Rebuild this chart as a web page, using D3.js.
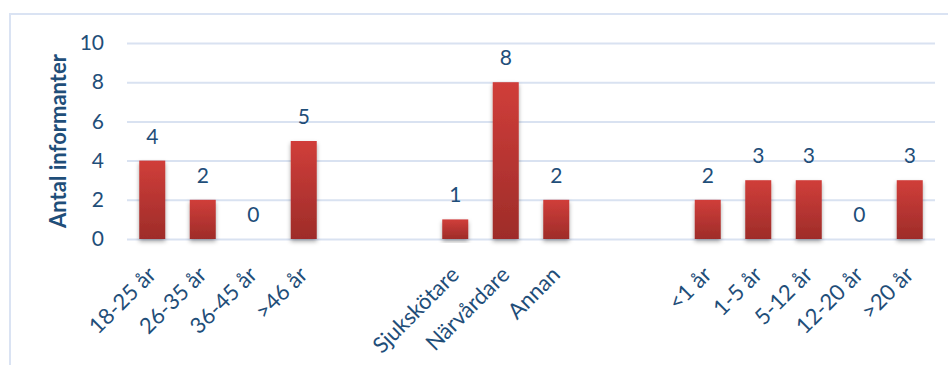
<!DOCTYPE html>
<html>
<head>
<meta charset="utf-8">
<script src="https://cdn.jsdelivr.net/npm/d3@7"></script>
<style>
  html, body { margin: 0; padding: 0; background: #ffffff; }
  svg { display: block; }
  text { font-family: Lato, "Open Sans", sans-serif; }
</style>
</head>
<body>
<svg id="chart" width="948" height="365"></svg>
<script>
// ---- data ----
const ageCategories = ["18-25 år", "26-35 år", "36-45 år", ">46 år"];
const ageValues = [4, 2, 0, 5];
const roleCategories = ["Sjukskötare", "Närvårdare", "Annan"];
const roleValues = [1, 8, 2];
const experienceCategories = ["<1 år", "1-5 år", "5-12 år", "12-20 år", ">20 år"];
const experienceValues = [2, 3, 3, 0, 3];
const yTicks = [0, 2, 4, 6, 8, 10];
const yTitle = "Antal informanter";
const gapSlots = 2;

// build slot list (groups separated by empty slots)
const groups = [
  [ageCategories, ageValues],
  [roleCategories, roleValues],
  [experienceCategories, experienceValues]
];
const slots = [];
groups.forEach(([cats, vals], gi) => {
  if (gi > 0) for (let g = 0; g < gapSlots; g++) slots.push({ key: "gap" + gi + "_" + g, label: "", value: null });
  cats.forEach((c, i) => slots.push({ key: c, label: c, value: vals[i] }));
});

const svg = d3.select("#chart");
const margin = { left: 127, right: 13, top: 43, bottom: 126 };
const W = 948, H = 365;
const textColor = "#1f4e79";

// outer chart border
svg.append("rect")
  .attr("x", 10).attr("y", 14)
  .attr("width", 2000).attr("height", 2000)
  .attr("fill", "none").attr("stroke", "#dae3f3").attr("stroke-width", 2);

const x = d3.scaleBand()
  .domain(slots.map(d => d.key))
  .range([margin.left, W - margin.right])
  .paddingInner(0.485).paddingOuter(0.2425);

const y = d3.scaleLinear().domain([0, 10]).range([H - margin.bottom, margin.top]);

// defs: gradient + shadow
const defs = svg.append("defs");
const grad = defs.append("linearGradient").attr("id", "barGrad")
  .attr("x1", 0).attr("y1", 0).attr("x2", 0).attr("y2", 1);
grad.append("stop").attr("offset", "0%").attr("stop-color", "#d03e3a");
grad.append("stop").attr("offset", "100%").attr("stop-color", "#9e2c29");
const f = defs.append("filter").attr("id", "shadow")
  .attr("x", "-30%").attr("y", "-10%").attr("width", "160%").attr("height", "130%");
f.append("feDropShadow").attr("dx", 0).attr("dy", 2.5).attr("stdDeviation", 2)
  .attr("flood-color", "#000").attr("flood-opacity", 0.35);

// gridlines
const yAxis = d3.axisLeft(y).tickValues(yTicks).tickSize(-(W - margin.right - margin.left)).tickPadding(23);
const gy = svg.append("g").attr("transform", `translate(${margin.left},0)`).call(yAxis);
gy.select(".domain").remove();
gy.selectAll(".tick line").attr("stroke", "#d9e2f1").attr("stroke-width", 2);
gy.selectAll(".tick text")
  .attr("fill", textColor).attr("font-size", 21).attr("font-family", "Lato, sans-serif");

// y title
svg.append("text")
  .attr("transform", `translate(66,${(y(0) + y(10)) / 2}) rotate(-90)`)
  .attr("text-anchor", "middle")
  .attr("font-size", 22).attr("font-weight", "bold")
  .attr("fill", textColor)
  .text(yTitle);

// bars
const barData = slots.filter(d => d.value !== null);
svg.append("g").selectAll("rect").data(barData.filter(d => d.value > 0)).join("rect")
  .attr("x", d => x(d.key))
  .attr("y", d => y(d.value))
  .attr("width", x.bandwidth())
  .attr("height", d => y(0) - y(d.value))
  .attr("fill", "url(#barGrad)")
  .attr("filter", "url(#shadow)");

// value labels
svg.append("g").selectAll("text").data(barData).join("text")
  .attr("x", d => x(d.key) + x.bandwidth() / 2)
  .attr("y", d => y(d.value) - 17)
  .attr("text-anchor", "middle")
  .attr("font-size", 21)
  .attr("fill", textColor)
  .text(d => d.value);

// x axis labels
const xAxis = d3.axisBottom(x).tickSize(0).tickFormat(k => slots.find(s => s.key === k).label);
const gx = svg.append("g").attr("transform", `translate(0,${y(0)})`).call(xAxis);
gx.select(".domain").remove();
gx.selectAll(".tick text")
  .attr("font-size", 22)
  .attr("font-family", "Lato, sans-serif")
  .attr("fill", textColor)
  .attr("text-anchor", "end")
  .attr("dy", 0)
  .attr("transform", "translate(3,35) rotate(-45)");
</script>
</body>
</html>
